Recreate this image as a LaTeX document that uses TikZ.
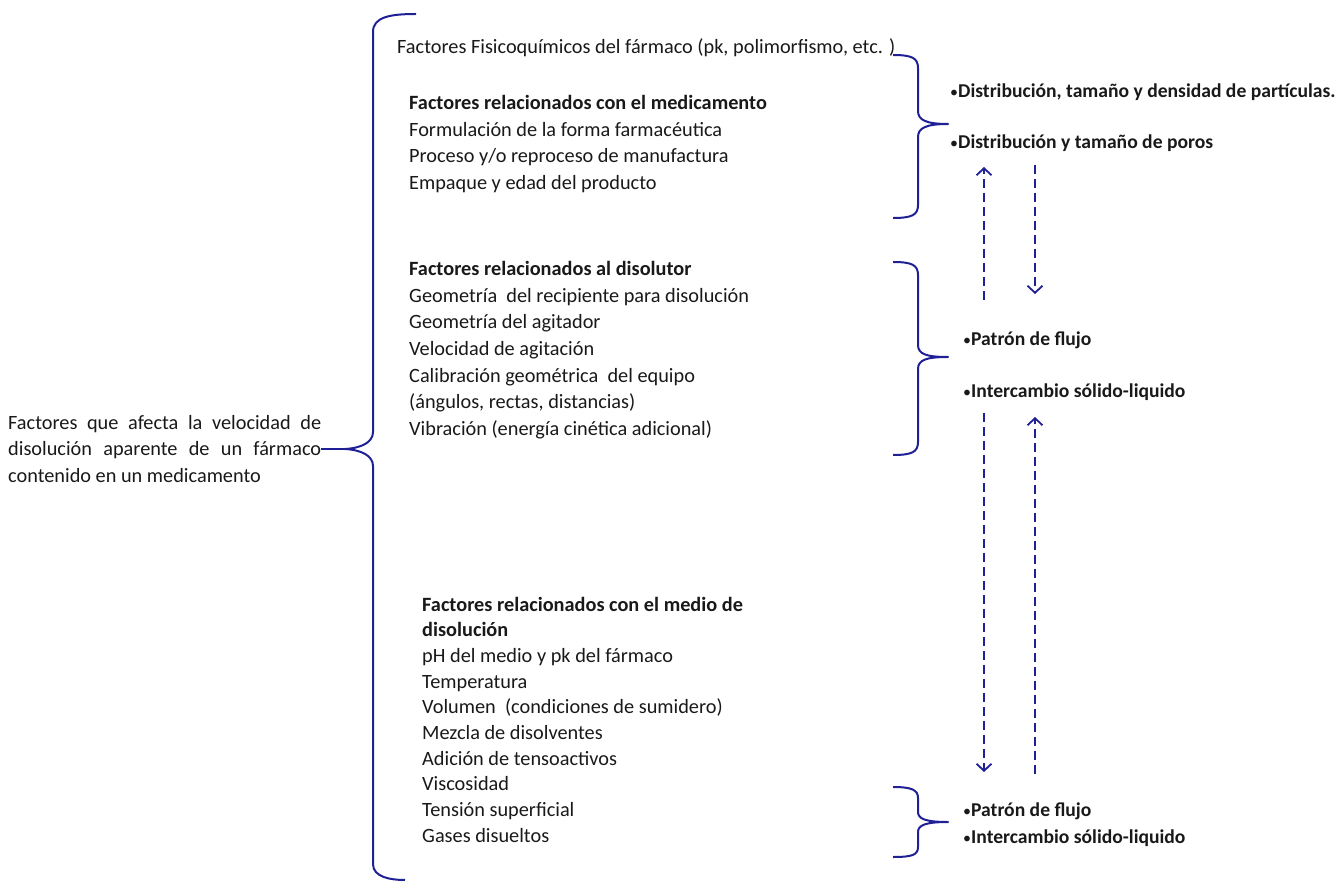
\documentclass[tikz,border=0pt]{standalone}
\usepackage{fontspec}
\setmainfont{Carlito}
\usetikzlibrary{arrows.meta}
\definecolor{brc}{RGB}{32,32,150}
\definecolor{txt}{RGB}{25,25,25}
\newcommand\smbul{{\fontsize{16}{16}\mdseries\selectfont\textbullet}}
\begin{document}
\begin{tikzpicture}[x=1pt,y=-1pt,
  br/.style={draw=brc, line width=2pt, line join=round},
  dar/.style={draw=brc, line width=1.8pt, dash pattern=on 9pt off 5pt,
              -{Straight Barb[length=7pt,width=15pt,line width=1.8pt]}},
  lbl/.style={anchor=base west, inner sep=0pt, text=txt,
              font=\fontsize{20.3}{24}\selectfont},
  hd/.style={lbl, font=\fontsize{20.3}{24}\selectfont\bfseries},
  eff/.style={lbl, font=\fontsize{19.6}{24}\selectfont\bfseries},
]
\useasboundingbox (0,0) rectangle (1341,882);

% ---- left title (justified) ----
\node[lbl] (t1) at (8,429) {\makebox[313pt][s]{Factores que afecta la velocidad de}};
\node[lbl] (t2) at (8,455.5) {\makebox[313pt][s]{disolución aparente de un fármaco}};
\node[lbl] (t3) at (8,482) {contenido en un medicamento};

% ---- big left brace ----
\coordinate (tipL) at (345,449);
\draw[br] (416,14) .. controls (390,14) and (373,17) .. (373,32) -- (373,432)
  .. controls (373,442) and (362,448) .. (tipL)
  .. controls (362,450) and (373,456) .. (373,466) -- (373,864)
  .. controls (373,877) and (390,880) .. (405,880);
\draw[br] (t2.east |- tipL) -- (tipL);

% ---- drug factors ----
\node[lbl] (fq) at (397,54) {Factores Fisicoquímicos del fármaco (pk, polimorfismo, etc. )};
\node[hd] (g1-0) at (409,110) {Factores relacionados con el medicamento};
\foreach \t [count=\i] in {Formulación de la forma farmacéutica,
    Proceso y/o reproceso de manufactura,
    Empaque y edad del producto}
  \node[lbl] (g1-\i) at (409,110+26.4*\i) {\t};

% ---- dissolver factors ----
\node[hd] (g2-0) at (409,276) {Factores relacionados al disolutor};
\foreach \t [count=\i] in {Geometría\ \ del recipiente para disolución,
    Geometría del agitador,
    Velocidad de agitación,
    Calibración geométrica\ \ del equipo,
    {(ángulos, rectas, distancias)},
    Vibración (energía cinética adicional)}
  \node[lbl] (g2-\i) at (409,276+26.5*\i) {\t};

% ---- dissolution medium factors ----
\node[hd] (g3-0) at (422,611) {Factores relacionados con el medio de};
\node[hd] (g3-1) at (422,636.7) {disolución};
\foreach \t [count=\i from 2] in {pH del medio y pk del fármaco,
    Temperatura,
    Volumen\ \ (condiciones de sumidero),
    Mezcla de disolventes,
    Adición de tensoactivos,
    Viscosidad,
    Tensión superficial,
    Gases disueltos}
  \node[lbl] (g3-\i) at (422,611+25.7*\i) {\t};

% ---- right braces ----
\draw[br] (893,55) .. controls (912,55) and (918,58) .. (918,68) -- (918,111)
  .. controls (918,120) and (926,124) .. (948,124)
  .. controls (926,124) and (918,128) .. (918,137) -- (918,205)
  .. controls (918,215) and (912,218) .. (893,218);
\draw[br] (893,262) .. controls (912,262) and (918,265) .. (918,275) -- (918,345)
  .. controls (918,354) and (926,357) .. (948,357)
  .. controls (926,357) and (918,360) .. (918,369) -- (918,442)
  .. controls (918,452) and (912,455) .. (893,455);
\draw[br] (893,787) .. controls (912,787) and (918,790) .. (918,798) -- (918,812)
  .. controls (918,819) and (926,822) .. (948,822)
  .. controls (926,822) and (918,825) .. (918,832) -- (918,847)
  .. controls (918,855) and (912,857) .. (893,857);

% ---- effects ----
\node[eff] (e1) at (950,98) {\smbul Distribución, tamaño y densidad de partículas.};
\node[eff] (e2) at (950,149) {\smbul Distribución y tamaño de poros};
\node[eff] (e3) at (963,346) {\smbul Patrón de flujo};
\node[eff] (e4) at (963,398) {\smbul Intercambio sólido-liquido};
\node[eff] (e5) at (963,816) {\smbul Patrón de flujo};
\node[eff] (e6) at (963,843) {\smbul Intercambio sólido-liquido};

% ---- dashed links between effect groups ----
\coordinate (a1s) at (984,300);  \coordinate (a1e) at (984,167);
\coordinate (a2s) at (1035,165); \coordinate (a2e) at (1035,294);
\coordinate (a3s) at (984,413);  \coordinate (a3e) at (984,772);
\coordinate (a4s) at (1035,774); \coordinate (a4e) at (1035,417);
\draw[dar] (a1s) -- (a1e);
\draw[dar] (a2s) -- (a2e);
\draw[dar] (a3s) -- (a3e);
\draw[dar] (a4s) -- (a4e);
\end{tikzpicture}
\end{document}
